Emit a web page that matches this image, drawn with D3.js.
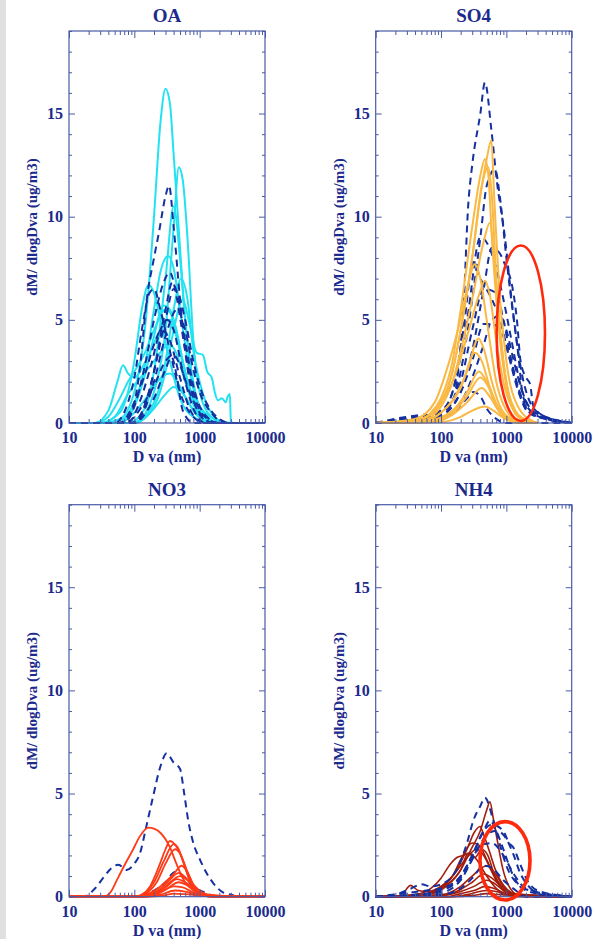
<!DOCTYPE html>
<html><head><meta charset="utf-8">
<script src="https://cdn.jsdelivr.net/npm/d3@7"></script>
<style>
body{margin:0;background:#fff;}
svg text{font-family:'Liberation Serif','DejaVu Serif',Times,serif !important;font-weight:bold;fill:#1b2a8c;}
</style>
</head><body><svg id="c" width="609" height="939"></svg>
<script>
// ---------- data (diameter nm, dM/dlogDva ug/m3) ----------
const panelTitles = ["OA", "SO4", "NO3", "NH4"];
const xTickValues = [10, 100, 1000, 10000];
const yTickValues = [0, 5, 10, 15];
const xLabel = "D va (nm)";
const yLabel = "dM/ dlogDva (ug/m3)";

const oaSolid = [
 [[10,0],[30,0],[60,0.2],[100,1.5],[150,5],[200,10],[250,14.5],[300,16.2],[350,15.5],[400,13],[500,8.5],[600,5],[800,1.8],[1000,0.6],[1500,0.1],[3200,0]],
 [[10,0],[100,0],[150,0.5],[200,1.5],[300,4.5],[400,9.5],[480,12.4],[550,11.8],[650,9],[800,4],[1000,1.5],[1500,0.3],[2500,0],[3200,0]],
 [[10,0],[80,0],[150,0.8],[200,2.5],[300,7],[400,10.5],[500,8],[600,5],[800,2],[1000,0.8],[2000,0],[3200,0]],
 [[10,0],[50,0],[100,1],[150,3],[200,5.5],[250,7.3],[330,8.1],[400,7.5],[500,5.5],[700,2.5],[1000,0.8],[2000,0.1],[3200,0]],
 [[10,0],[30,0],[60,0.5],[80,1.5],[100,3],[130,5.5],[165,6.7],[200,6.3],[250,5],[350,3],[500,1.2],[800,0.3],[1500,0],[3200,0]],
 [[10,0],[100,0],[200,1],[300,3],[400,5.5],[520,7],[650,6],[800,3.5],[1000,2],[1500,0.5],[2500,0],[3200,0]],
 [[10,0],[100,0],[200,0.8],[300,2.5],[400,4.5],[550,6],[700,4.8],[900,3.4],[1120,3.3],[1300,2.5],[1530,2.2],[1700,1.5],[1900,1.1],[2200,1.2],[2500,1.0],[2700,1.3],[2900,1.4],[3000,0.1],[3200,0]],
 [[10,0],[25,0],[40,0.6],[55,2],[67,2.8],[80,2.4],[100,2.2],[150,3],[250,4.5],[350,5],[500,3.5],[800,1],[1500,0],[3200,0]],
 [[10,0],[25,0],[40,0.3],[60,1.2],[80,2],[100,2.5],[150,3.5],[200,4.5],[300,5.5],[400,5],[600,2.5],[1000,0.6],[2000,0],[3200,0]],
 [[10,0],[30,0],[50,0.3],[80,1.4],[110,2],[150,2.5],[200,3],[280,3.6],[350,3.8],[450,3.3],[600,2],[800,0.9],[1200,0.2],[2000,0],[3200,0]],
 [[10,0],[50,0],[100,0.5],[150,1.2],[200,1.8],[280,2.3],[350,2.4],[450,2],[600,1.3],[800,0.6],[1200,0.1],[2000,0],[3200,0]],
 [[10,0],[80,0],[150,0.3],[200,0.7],[300,1.4],[400,1.75],[500,1.6],[700,0.9],[1000,0.3],[1500,0],[3200,0]],
 [[10,0],[60,0],[100,0.8],[150,2.5],[200,4.2],[280,5.7],[350,5.5],[450,4.2],[600,2.3],[900,0.6],[1500,0],[3200,0]]
];
const oaDashed = [
 [[10,0],[60,0],[90,0.5],[120,2.5],[155,6],[200,8],[240,9.3],[300,11],[340,11.5],[400,9.5],[500,6],[600,3.5],[800,1.2],[1000,0.4],[1500,0],[10000,0]],
 [[10,0],[70,0],[100,0.8],[150,3],[200,5],[280,6.8],[350,7.3],[450,6],[600,3.5],[800,1.5],[1200,0.3],[2000,0],[10000,0]],
 [[10,0],[50,0],[80,1],[100,2.2],[130,4.5],[170,6.3],[200,6.5],[250,5.5],[350,3.5],[500,1.5],[800,0.3],[1200,0],[10000,0]],
 [[10,0],[100,0],[150,1],[200,2.5],[300,5],[400,6.5],[500,6],[600,5],[800,3],[1000,1.8],[1500,0.6],[2000,0.2],[3000,0],[10000,0]],
 [[10,0],[100,0],[150,0.8],[200,2],[300,4.2],[450,5.5],[600,4.5],[800,2.6],[1000,1.5],[1500,0.5],[2500,0],[10000,0]],
 [[10,0],[100,0],[150,0.5],[200,1.2],[300,2.6],[370,3.2],[450,2.2],[530,0.8],[650,0.2],[800,0],[10000,0]],
 [[10,0],[60,0],[100,1],[150,2.5],[200,3.8],[260,4.5],[350,4],[500,2.2],[700,0.7],[1000,0.1],[1500,0],[10000,0]],
 [[10,0],[80,0],[120,1],[180,2.8],[250,4.5],[320,5],[400,4.5],[550,2.5],[800,0.7],[1200,0],[10000,0]],
 [[10,0],[90,0],[150,1],[200,2.5],[300,5.5],[380,6.8],[450,6.3],[600,4],[800,1.8],[1200,0.4],[2000,0],[10000,0]],
 [[10,0],[70,0],[100,0.3],[130,0.8],[200,1.8],[300,3],[400,3.3],[500,2.8],[700,1.5],[1000,0.5],[1600,0],[10000,0]]
];

const so4Solid = [
 [[10,0],[30,0.05],[60,0.3],[100,1],[150,2.5],[200,4.5],[300,8],[400,11],[500,12.8],[590,13.7],[650,11],[800,6],[1000,3],[1500,0.8],[2500,0.1],[3000,0]],
 [[10,0],[40,0.1],[70,0.5],[100,1.2],[150,3],[200,5.5],[300,9.5],[400,12],[470,12.8],[530,12],[600,9],[800,4],[1000,1.8],[1500,0.3],[2500,0],[3000,0]],
 [[10,0],[50,0.2],[100,1],[150,2.5],[200,4.5],[300,8],[420,11.5],[530,12.4],[600,11],[700,7],[900,3],[1200,1],[2000,0.1],[3000,0]],
 [[10,0],[50,0.1],[100,0.8],[150,2],[200,3.5],[300,6],[450,8.8],[560,9.7],[650,8],[800,4.5],[1000,2],[1500,0.4],[3000,0]],
 [[10,0],[40,0.2],[80,1],[120,2.5],[180,4.5],[250,6.5],[330,7.7],[400,7],[500,5],[700,2],[1000,0.6],[1500,0.1],[3000,0]],
 [[10,0],[50,0.2],[100,1],[150,2],[250,4.2],[380,6.2],[470,6.9],[550,6.3],[700,4],[900,2],[1200,0.8],[2000,0.1],[3000,0]],
 [[10,0],[50,0.1],[100,0.5],[150,1.1],[250,2.5],[375,4.1],[450,3.6],[600,2],[800,0.8],[1200,0.2],[3000,0]],
 [[10,0],[50,0.1],[100,0.5],[200,1.7],[330,3.4],[420,3],[550,1.8],[800,0.6],[1200,0.1],[3000,0]],
 [[10,0],[60,0.1],[150,0.6],[250,1.5],[380,2.5],[500,2],[700,0.9],[1000,0.2],[3000,0]],
 [[10,0],[60,0.05],[150,0.5],[250,1.3],[400,2.2],[520,1.8],[700,0.8],[1000,0.2],[3000,0]],
 [[10,0],[80,0.05],[150,0.4],[250,1],[420,1.7],[550,1.3],[800,0.5],[1200,0.1],[3000,0]],
 [[10,0],[100,0.05],[200,0.3],[300,0.6],[470,0.8],[600,0.65],[900,0.25],[1500,0],[3000,0]]
];
const so4Dashed = [
 [[10,0],[30,0.2],[60,0.3],[100,0.6],[150,1],[175,2],[200,3.8],[220,5.5],[260,10.5],[300,12.5],[400,15],[470,16.5],[590,14.2],[710,11.8],[950,9],[1200,6],[1500,3.5],[1800,1.3],[2500,0.5],[4000,0.2],[10000,0]],
 [[10,0],[30,0.2],[60,0.3],[100,0.5],[150,1],[200,2.5],[300,6],[400,9],[500,11.5],[670,12.3],[800,10.9],[1000,8],[1300,5],[1700,2.5],[2500,0.8],[4000,0.3],[10000,0]],
 [[10,0],[40,0.2],[100,0.5],[150,1.5],[250,5],[400,9],[550,8.5],[700,7.5],[900,6],[1200,4],[1600,2],[2500,0.6],[5000,0.2],[10000,0]],
 [[10,0],[50,0.3],[100,0.6],[150,1.5],[220,4.5],[310,7.8],[400,7],[600,6],[800,5],[1100,3.2],[1500,1.6],[2200,0.5],[10000,0]],
 [[10,0],[60,0.3],[120,0.8],[200,2],[300,4.5],[450,6.5],[700,6.3],[900,5],[1200,3],[1600,1.5],[2500,0.4],[10000,0]],
 [[10,0],[35,0.3],[100,0.4],[200,1.5],[300,3],[450,4.8],[600,4.8],[900,4.2],[1200,2.8],[1700,1.2],[2500,0.4],[7000,0.1],[10000,0]],
 [[10,0],[30,0.3],[60,0.4],[80,0.2],[150,0.5],[250,1.2],[310,1.5],[400,1.3],[500,0.7],[700,0.2],[1000,0],[10000,0]],
 [[10,0],[100,0.3],[200,1],[300,2.2],[450,3.8],[600,5],[800,5.2],[1000,4.5],[1300,3],[1800,1.4],[2500,0.5],[10000,0]],
 [[10,0],[50,0.2],[100,0.4],[200,1.5],[300,3.5],[450,6.5],[600,8.5],[800,8.2],[1000,7.5],[1200,6.8],[1450,5],[1650,3],[2000,2.2],[2300,1.9],[2600,0.8],[4000,0.3],[10000,0]]
];

const no3Solid = [
 [[10,0],[30,0],[38,0.05],[45,0.3],[54,0.8],[70,1.5],[96,2.3],[120,2.9],[164,3.35],[200,3.3],[250,3.1],[350,2.4],[440,1.6],[600,0.7],[800,0.3],[1200,0.1],[2000,0],[10000,0]],
 [[10,0],[100,0],[130,0.1],[174,0.5],[247,1.6],[300,2.3],[350,2.7],[400,2.6],[500,2.1],[600,1.4],[710,0.8],[900,0.3],[1500,0],[10000,0]],
 [[10,0],[110,0],[150,0.2],[200,0.7],[280,1.7],[400,2.55],[460,2.4],[550,1.8],[700,0.8],[900,0.3],[1500,0],[10000,0]],
 [[10,0],[120,0],[160,0.2],[220,0.7],[300,1.6],[420,2.3],[500,2.1],[600,1.5],[750,0.7],[1000,0.2],[1500,0],[10000,0]],
 [[10,0],[100,0],[150,0.1],[250,0.5],[400,1.1],[530,1.5],[650,1.2],[800,0.6],[1000,0.3],[1500,0.05],[10000,0]],
 [[10,0],[100,0],[200,0.2],[300,0.6],[480,1.15],[600,0.95],[800,0.5],[1200,0.1],[2000,0],[10000,0]],
 [[10,0],[120,0],[200,0.15],[300,0.5],[500,1.0],[650,0.8],[900,0.35],[1500,0.05],[10000,0]],
 [[10,0],[100,0],[200,0.15],[300,0.45],[450,0.85],[600,0.7],[900,0.3],[1500,0.05],[10000,0]],
 [[10,0],[120,0],[200,0.1],[300,0.35],[480,0.7],[650,0.55],[900,0.25],[2000,0.05],[10000,0]],
 [[10,0],[120,0],[250,0.2],[400,0.5],[550,0.45],[800,0.2],[1500,0.05],[3000,0],[10000,0]],
 [[10,0],[150,0],[250,0.1],[420,0.3],[600,0.25],[900,0.1],[2000,0],[10000,0]],
 [[10,0],[150,0],[300,0.08],[400,0.15],[600,0.12],[1000,0.05],[2000,0],[10000,0]]
];
const no3Dashed = [
 [[10,0],[17,0],[25,0.4],[35,1],[45,1.4],[57,1.55],[76,1.3],[100,1.6],[122,2.1],[150,3.3],[195,4.9],[250,6.3],[313,6.95],[400,6.5],[500,6.2],[580,5],[667,3.7],[800,2.6],[1010,1.8],[1300,1.1],[1620,0.65],[2300,0.2],[3000,0.1],[4000,0],[10000,0]],
 [[10,0],[100,0],[200,0.3],[300,0.7],[420,1.2],[550,1],[800,0.5],[1200,0.2],[2000,0],[10000,0]]
];

const nh4Solid = [
 [[10,0],[50,0.1],[100,0.4],[200,1.3],[300,2.4],[400,3.2],[500,4.2],[560,4.6],[630,3.8],[710,2.9],[890,1.3],[1100,0.5],[1500,0.1],[10000,0]],
 [[10,0],[40,0.05],[80,0.3],[150,1],[250,2.3],[320,3.1],[395,3.4],[450,3],[550,2.2],[700,1.2],[1000,0.4],[1500,0.1],[10000,0]],
 [[10,0],[60,0.1],[100,0.4],[150,1],[200,1.8],[300,2.6],[380,2.5],[500,1.8],[700,0.8],[1000,0.2],[1500,0],[10000,0]],
 [[10,0],[25,0],[30,0.4],[34,0.55],[45,0.3],[60,0.25],[100,0.5],[150,1],[250,1.9],[350,2.3],[450,2],[600,1.2],[800,0.5],[1200,0.1],[10000,0]],
 [[10,0],[40,0.1],[70,0.4],[100,0.9],[140,1.6],[175,1.9],[220,2],[270,2.1],[350,1.8],[500,1],[700,0.4],[1000,0.1],[10000,0]],
 [[10,0],[60,0.1],[120,0.5],[200,1.3],[260,2.1],[330,1.9],[420,2.3],[520,2.0],[650,1.1],[900,0.4],[1400,0.05],[10000,0]],
 [[10,0],[100,0.1],[200,0.5],[300,1],[500,1.5],[650,1.2],[900,0.5],[1300,0.15],[10000,0]],
 [[10,0],[100,0.05],[200,0.35],[300,0.7],[450,1.1],[600,0.9],[900,0.4],[1300,0.1],[10000,0]],
 [[10,0],[100,0.05],[200,0.25],[320,0.5],[500,0.8],[650,0.65],[900,0.3],[1500,0.05],[10000,0]],
 [[10,0],[120,0],[200,0.15],[320,0.3],[480,0.5],[650,0.4],[1000,0.15],[2000,0.05],[10000,0]],
 [[10,0],[150,0],[250,0.1],[500,0.3],[700,0.25],[1000,0.1],[3000,0],[10000,0]],
 [[10,0],[150,0],[300,0.05],[500,0.15],[800,0.1],[2000,0.03],[10000,0]]
];
const nh4Dashed = [
 [[10,0],[20,0.1],[35,0.4],[50,0.6],[70,0.5],[100,0.6],[173,1.3],[250,2.6],[313,3.7],[400,4.4],[470,4.8],[630,3.7],[800,2.5],[1000,1.5],[1500,0.6],[2500,0.2],[4000,0.1],[10000,0]],
 [[10,0],[40,0.1],[100,0.3],[200,1],[300,2],[450,3.2],[600,3.5],[890,3.2],[1100,2.6],[1270,2.4],[1620,1.6],[2000,0.9],[3000,0.3],[10000,0]],
 [[10,0],[50,0.1],[100,0.3],[200,0.9],[350,2.2],[500,3],[700,3.2],[1000,2.8],[1300,2],[1600,1.2],[2200,0.5],[3500,0.1],[10000,0]],
 [[10,0],[100,0.2],[200,0.8],[300,1.8],[400,2.5],[600,2.6],[900,2],[1300,1.1],[2000,0.4],[10000,0]],
 [[10,0],[60,0.3],[100,0.4],[200,1],[300,2],[450,3.2],[560,3.7],[700,3.2],[900,2.3],[1200,1.2],[1800,0.4],[10000,0]],
 [[10,0],[100,0.1],[200,0.4],[300,0.9],[450,1.5],[600,1.4],[900,0.8],[1400,0.3],[2000,0],[10000,0]]
];

// annotation ellipses, given by their data extents
const ellipses = [
 {panel: 1, dMin: 710, dMax: 3900, vMin: 0.1, vMax: 8.6},
 {panel: 3, dMin: 395, dMax: 2300, vMin: -0.16, vMax: 3.64}
];

// ---------- drawing ----------
const FONT = "'Liberation Serif','DejaVu Serif',Times,serif";
const svg = d3.select("#c");
svg.append("rect").attr("x",0).attr("y",0).attr("width",6).attr("height",939).attr("fill","#e0e0e0");

const W = 196, H = 392;
const x = d3.scaleLog().domain([10, 10000]).range([0, W]);
const y = d3.scaleLinear().domain([0, 19]).range([H, 0]);
const minorX = x.ticks().filter(v => !xTickValues.includes(v));
const minorY = y.ticks(19).filter(v => !yTickValues.includes(v));

const axisColor = "#4a5aa6";
const textColor = "#1b2a8c";
const dashColor = "#1530a0";
const layout = [{left:69, top:31}, {left:375.7, top:31}, {left:69, top:504.7}, {left:375.7, top:504.7}];
const panels = [
 {solid: oaSolid, dashed: oaDashed, color: "#22e2f2", width: 2, dashedFirst: false},
 {solid: so4Solid, dashed: so4Dashed, color: "#f9b944", width: 2, dashedFirst: true},
 {solid: no3Solid, dashed: no3Dashed, color: "#ff3a16", width: 1.8, dashedFirst: true},
 {solid: nh4Solid, dashed: nh4Dashed, color: "#a31d0c", width: 1.6, dashedFirst: false}
];
const ellWidths = {1: 2.6, 3: 3.6};

const line = d3.line().x(d => x(d[0])).y(d => y(d[1])).curve(d3.curveMonotoneX);

panels.forEach((p, i) => {
  const L = layout[i];
  const g = svg.append("g").attr("transform", `translate(${L.left},${L.top})`);

  const drawSolid = () => g.append("g").selectAll("path").data(p.solid).join("path")
     .attr("d", line).attr("fill","none").attr("stroke", p.color).attr("stroke-width", p.width)
     .attr("stroke-linejoin","round");
  const drawDashed = () => g.append("g").selectAll("path").data(p.dashed).join("path")
     .attr("d", line).attr("fill","none").attr("stroke", dashColor).attr("stroke-width", 2)
     .attr("stroke-dasharray","7,5");
  if (p.dashedFirst) { drawDashed(); drawSolid(); } else { drawSolid(); drawDashed(); }

  const styleAxis = sel => {
    sel.attr("font-family", FONT).attr("font-size", 16).attr("font-weight", "bold");
    sel.select(".domain").remove();
    sel.selectAll(".tick line").attr("stroke", axisColor);
    sel.selectAll(".tick text").attr("fill", textColor).style("font-family", FONT).style("font-size","16px").style("font-weight","bold");
  };
  g.append("g").attr("transform",`translate(0,${H})`)
    .call(d3.axisBottom(x).tickValues(xTickValues).tickFormat(d3.format("d")).tickSize(-7).tickPadding(9)).call(styleAxis);
  g.append("g").attr("transform",`translate(0,${H})`)
    .call(d3.axisBottom(x).tickValues(minorX).tickFormat("").tickSize(-4)).call(styleAxis);
  g.append("g").call(d3.axisTop(x).tickValues(xTickValues).tickFormat("").tickSize(-7)).call(styleAxis);
  g.append("g").call(d3.axisTop(x).tickValues(minorX).tickFormat("").tickSize(-4)).call(styleAxis);
  g.append("g").call(d3.axisLeft(y).tickValues(yTickValues).tickSize(-6).tickPadding(6)).call(styleAxis);
  g.append("g").call(d3.axisLeft(y).tickValues(minorY).tickFormat("").tickSize(-3)).call(styleAxis);
  g.append("g").attr("transform",`translate(${W},0)`).call(d3.axisRight(y).tickValues(yTickValues).tickFormat("").tickSize(-6)).call(styleAxis);
  g.append("g").attr("transform",`translate(${W},0)`).call(d3.axisRight(y).tickValues(minorY).tickFormat("").tickSize(-3)).call(styleAxis);

  g.append("rect").attr("width", W).attr("height", H).attr("fill","none").attr("stroke", axisColor).attr("stroke-width", 1.2);

  ellipses.filter(e => e.panel === i).forEach(e => {
    g.append("ellipse")
      .attr("cx", (x(e.dMin) + x(e.dMax)) / 2).attr("cy", (y(e.vMin) + y(e.vMax)) / 2)
      .attr("rx", (x(e.dMax) - x(e.dMin)) / 2).attr("ry", (y(e.vMin) - y(e.vMax)) / 2)
      .attr("fill","none").attr("stroke","#ff2a0c").attr("stroke-width", ellWidths[i]);
  });

  const txt = (sel, size) => sel.style("font-family", FONT).style("font-size", size + "px")
      .style("font-weight","bold").attr("fill", textColor).attr("text-anchor","middle");
  g.append("text").attr("x", W/2).attr("y", -9).call(txt, 19).text(panelTitles[i]);
  g.append("text").attr("x", W/2).attr("y", H + 39).call(txt, 16).text(xLabel);
  g.append("text").attr("transform","rotate(-90)").attr("x", -H/2).attr("y", -37).attr("dy","0.35em")
    .call(txt, 15).text(yLabel);
});
</script>
</body></html>
